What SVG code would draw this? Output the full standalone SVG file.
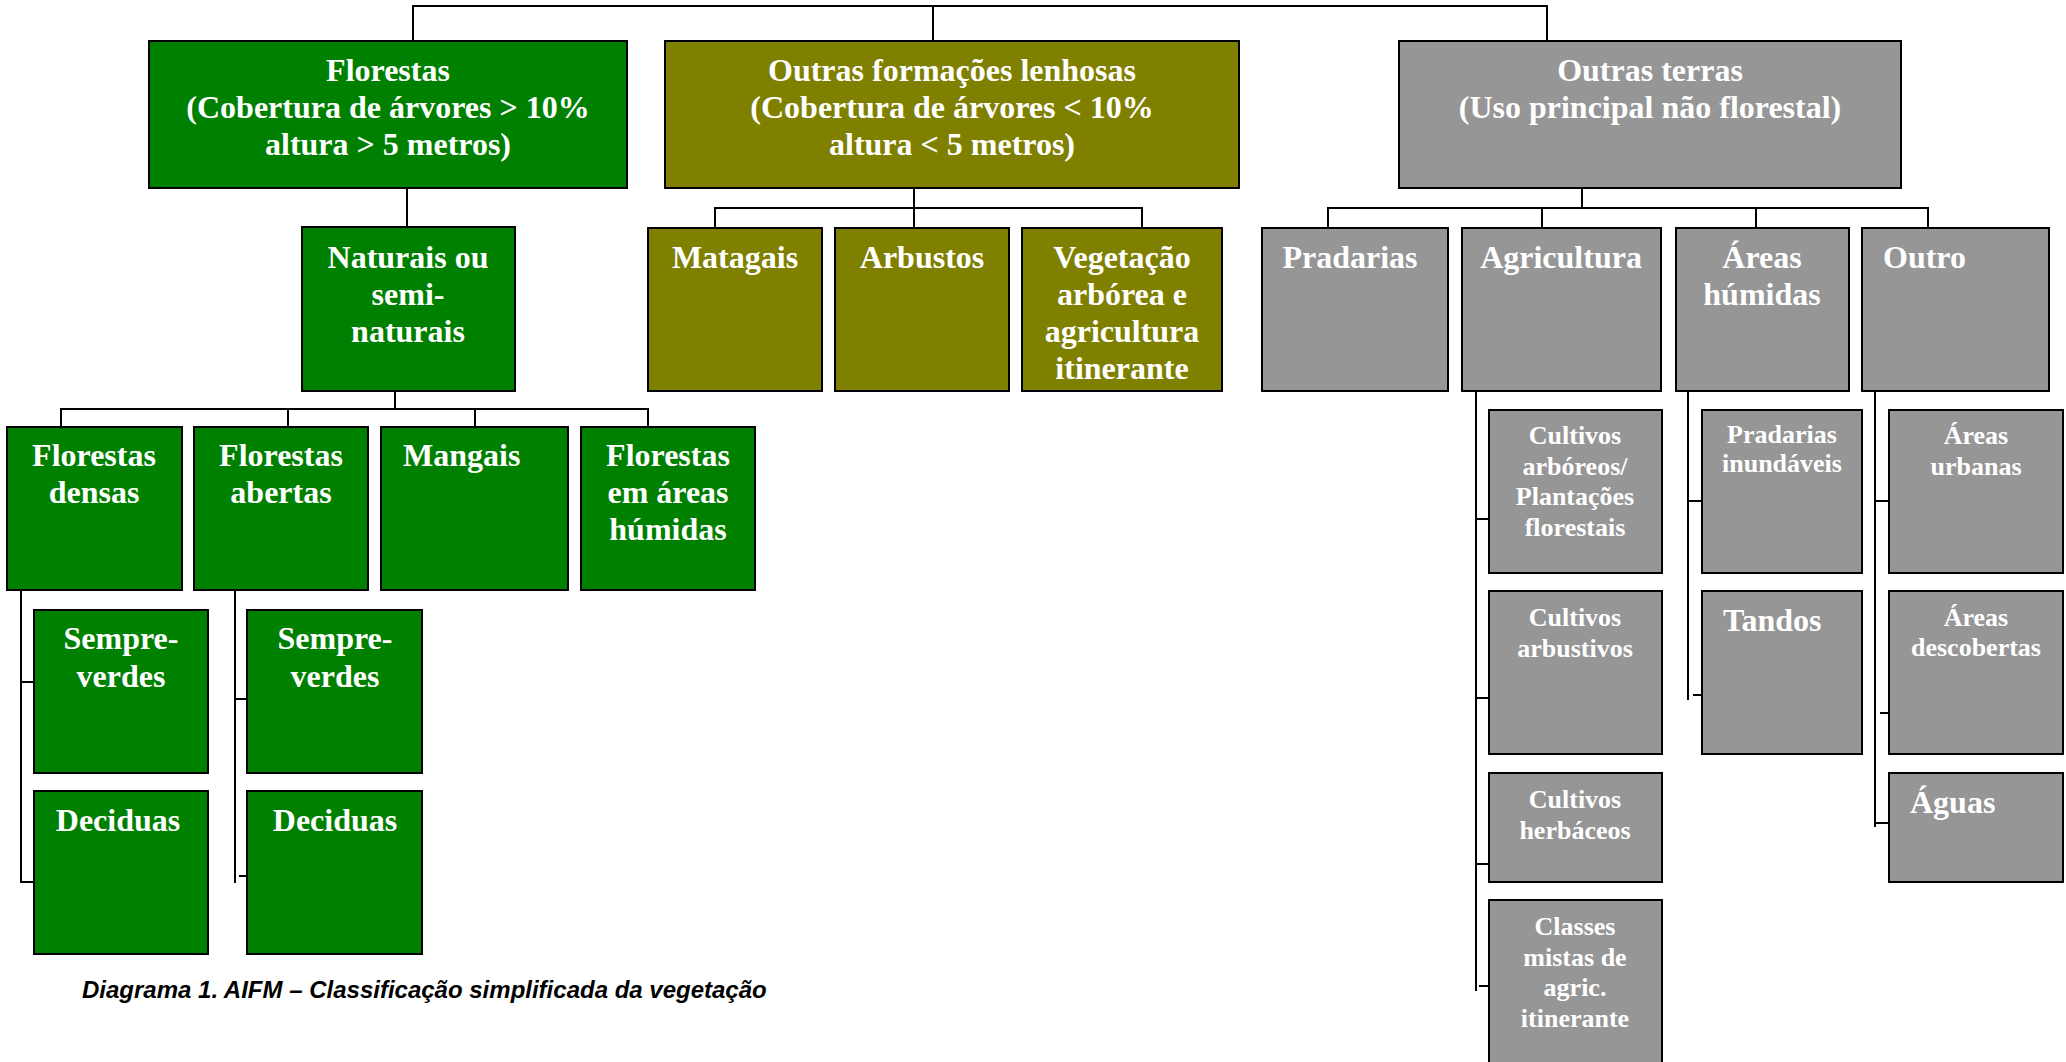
<svg xmlns="http://www.w3.org/2000/svg" width="2066" height="1062" viewBox="0 0 2066 1062">
<style>
.g{fill:#008000;stroke:#000;stroke-width:2}
.o{fill:#808000;stroke:#000;stroke-width:2}
.r{fill:#969696;stroke:#000;stroke-width:2}
.t{font-family:"Liberation Serif","Times New Roman",serif;font-weight:bold;fill:#fff;font-size:32px;text-anchor:middle}
.s{font-size:26px}
.l{text-anchor:start}
.c{stroke:#000;stroke-width:2;fill:none}
.cap{font-family:"Liberation Sans",Arial,sans-serif;font-weight:bold;font-style:italic;font-size:24px;fill:#000}
</style>
<rect width="2066" height="1062" fill="#fff"/>
<g id="connectors" class="c">
<path d="M413,41 V6 H1547 V41 M933,6 V41"/>
<path d="M407,188 V227"/>
<path d="M395,391 V409 M61,427 V409 H648 V427 M288,409 V427 M475,409 V427"/>
<path d="M21,590 V882 H34 M21,682 H34"/>
<path d="M235,590 V883 M235,699 H247 M239,876 H247"/>
<path d="M914,188 V228 M715,228 V208 H1142 V228"/>
<path d="M1582,188 V208 M1328,228 V208 H1928 V228 M1542,208 V228 M1756,208 V228"/>
<path d="M1476,391 V991 M1476,519 H1489 M1476,698 H1489 M1476,864 H1489 M1479,986 H1489"/>
<path d="M1688,391 V700 M1688,501 H1702 M1693,695 H1702"/>
<path d="M1875,391 V827 M1875,501 H1889 M1880,713 H1889 M1875,823 H1889"/>
</g>
<g id="florestas"><rect class="g" x="149" y="41" width="478" height="147"/>
<text class="t" x="388" y="81">Florestas</text><text class="t" x="388" y="118">(Cobertura de árvores &gt; 10%</text><text class="t" x="388" y="155">altura &gt; 5 metros)</text></g>
<g id="outras-formacoes"><rect class="o" x="665" y="41" width="574" height="147"/>
<text class="t" x="952" y="81">Outras formações lenhosas</text><text class="t" x="952" y="118">(Cobertura de árvores &lt; 10%</text><text class="t" x="952" y="155">altura &lt; 5 metros)</text></g>
<g id="outras-terras"><rect class="r" x="1399" y="41" width="502" height="147"/>
<text class="t" x="1650" y="81">Outras terras</text><text class="t" x="1650" y="118">(Uso principal não florestal)</text></g>
<g id="naturais"><rect class="g" x="302" y="227" width="213" height="164"/>
<text class="t" x="408" y="268">Naturais ou</text><text class="t" x="408" y="305">semi-</text><text class="t" x="408" y="342">naturais</text></g>
<g id="densas"><rect class="g" x="7" y="427" width="175" height="163"/>
<text class="t" x="94" y="466">Florestas</text><text class="t" x="94" y="503">densas</text></g>
<g id="abertas"><rect class="g" x="194" y="427" width="174" height="163"/>
<text class="t" x="281" y="466">Florestas</text><text class="t" x="281" y="503">abertas</text></g>
<g id="mangais"><rect class="g" x="381" y="427" width="187" height="163"/>
<text class="t l" x="403" y="466">Mangais</text></g>
<g id="florestas-humidas"><rect class="g" x="581" y="427" width="174" height="163"/>
<text class="t" x="668" y="466">Florestas</text><text class="t" x="668" y="503">em áreas</text><text class="t" x="668" y="540">húmidas</text></g>
<g id="densas-sempre"><rect class="g" x="34" y="610" width="174" height="163"/>
<text class="t" x="121" y="649">Sempre-</text><text class="t" x="121" y="687">verdes</text></g>
<g id="densas-deciduas"><rect class="g" x="34" y="791" width="174" height="163"/>
<text class="t" x="118" y="831">Deciduas</text></g>
<g id="abertas-sempre"><rect class="g" x="247" y="610" width="175" height="163"/>
<text class="t" x="335" y="649">Sempre-</text><text class="t" x="335" y="687">verdes</text></g>
<g id="abertas-deciduas"><rect class="g" x="247" y="791" width="175" height="163"/>
<text class="t" x="335" y="831">Deciduas</text></g>
<g id="matagais"><rect class="o" x="648" y="228" width="174" height="163"/>
<text class="t" x="735" y="268">Matagais</text></g>
<g id="arbustos"><rect class="o" x="835" y="228" width="174" height="163"/>
<text class="t" x="922" y="268">Arbustos</text></g>
<g id="vegetacao"><rect class="o" x="1022" y="228" width="200" height="163"/>
<text class="t" x="1122" y="268">Vegetação</text><text class="t" x="1122" y="305">arbórea e</text><text class="t" x="1122" y="342">agricultura</text><text class="t" x="1122" y="379">itinerante</text></g>
<g id="pradarias"><rect class="r" x="1262" y="228" width="186" height="163"/>
<text class="t" x="1350" y="268">Pradarias</text></g>
<g id="agricultura"><rect class="r" x="1462" y="228" width="199" height="163"/>
<text class="t" x="1561" y="268">Agricultura</text></g>
<g id="areas-humidas"><rect class="r" x="1676" y="228" width="173" height="163"/>
<text class="t" x="1762" y="268">Áreas</text><text class="t" x="1762" y="305">húmidas</text></g>
<g id="outro"><rect class="r" x="1862" y="228" width="187" height="163"/>
<text class="t l" x="1883" y="268">Outro</text></g>
<g id="cultivos-arboreos"><rect class="r" x="1489" y="410" width="173" height="163"/>
<text class="t s" x="1575" y="444">Cultivos</text><text class="t s" x="1575" y="475">arbóreos/</text><text class="t s" x="1575" y="505">Plantações</text><text class="t s" x="1575" y="536">florestais</text></g>
<g id="cultivos-arbustivos"><rect class="r" x="1489" y="591" width="173" height="163"/>
<text class="t s" x="1575" y="626">Cultivos</text><text class="t s" x="1575" y="657">arbustivos</text></g>
<g id="cultivos-herbaceos"><rect class="r" x="1489" y="773" width="173" height="109"/>
<text class="t s" x="1575" y="808">Cultivos</text><text class="t s" x="1575" y="839">herbáceos</text></g>
<g id="classes-mistas"><rect class="r" x="1489" y="900" width="173" height="180"/>
<text class="t s" x="1575" y="935">Classes</text><text class="t s" x="1575" y="966">mistas de</text><text class="t s" x="1575" y="996">agric.</text><text class="t s" x="1575" y="1027">itinerante</text></g>
<g id="pradarias-inundaveis"><rect class="r" x="1702" y="410" width="160" height="163"/>
<text class="t s" x="1782" y="443">Pradarias</text><text class="t s" x="1782" y="472">inundáveis</text></g>
<g id="tandos"><rect class="r" x="1702" y="591" width="160" height="163"/>
<text class="t l" x="1723" y="631">Tandos</text></g>
<g id="areas-urbanas"><rect class="r" x="1889" y="410" width="174" height="163"/>
<text class="t s" x="1976" y="444">Áreas</text><text class="t s" x="1976" y="475">urbanas</text></g>
<g id="areas-descobertas"><rect class="r" x="1889" y="591" width="174" height="163"/>
<text class="t s" x="1976" y="626">Áreas</text><text class="t s" x="1976" y="656">descobertas</text></g>
<g id="aguas"><rect class="r" x="1889" y="773" width="174" height="109"/>
<text class="t l" x="1910" y="813">Águas</text></g>
<text class="cap" x="82" y="998">Diagrama 1. AIFM – Classificação simplificada da vegetação</text>
</svg>
